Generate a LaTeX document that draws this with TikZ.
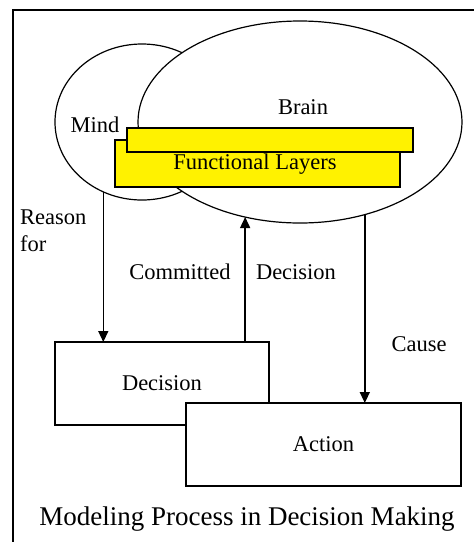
\documentclass[tikz,border=0pt]{standalone}
\usepackage{fontspec}
\setmainfont{Liberation Serif}
\usepackage{xcolor}
\usetikzlibrary{arrows.meta,shapes.geometric}

\begin{document}
\begin{tikzpicture}[x=1pt,y=-1pt,
		lbl/.style={font=\fontsize{22.5}{27}\selectfont,inner sep=0pt},
		oval/.style={draw,ellipse,line width=1.2pt,inner sep=0pt,outer sep=0pt},
		layer/.style={draw,fill=yellow,line width=1.5pt,inner sep=0pt,outer sep=0pt},
		box/.style={draw,fill=white,line width=1.5pt,inner sep=0pt,outer sep=0pt},
		arr/.style={line width=1.5pt,-{Triangle[width=10pt,length=11pt]}}]
	\clip (0,0) rectangle (474,542);
	\fill[white] (0,0) rectangle (474,542);
	\draw[line width=2.5pt] (13,10) rectangle (490,560);
	
	% mind and brain
	\node[oval,minimum width=174pt,minimum height=156pt] (mind) at (142,122) {};
	\node[oval,fill=white,minimum width=324pt,minimum height=202pt] (brain) at (300,122) {};
	\node[lbl] (mindtxt) at (95,125) {Mind};
	\node[lbl] (braintxt) at (303,107) {Brain};
	
	% functional layers
	\node[layer,minimum width=285pt,minimum height=47pt] (lowlayer) at (257.5,163.5) {};
	\node[lbl] (layertxt) at (255,164) {Functional Layers};
	\node[layer,minimum width=286pt,minimum height=24pt] (uplayer) at (270,140) {};
	
	% boxes
	\node[box,minimum width=214pt,minimum height=83pt] (decision) at (162,383.5) {};
	\node[lbl] at (decision) {Decision};
	\node[box,minimum width=275pt,minimum height=83pt] (action) at (323.5,444.5) {};
	\node[lbl] at (action) {Action};
	
	% arrows
	\draw[arr] (mind.241) -- (mind.241 |- decision.north);
	\draw[arr] (decision.north -| brain.240) -- (brain.240);
	\draw[arr] (brain.305) -- (brain.305 |- action.north);
	
	\node[lbl,align=left,anchor=north west] (reason) at (20,210) {Reason\\for};
	\node[lbl] (committed) at (180,272) {Committed};
	\node[lbl] (dectxt) at (296,272) {Decision};
	\node[lbl] (cause) at (419,344) {Cause};
	
	\node[font=\fontsize{27}{32}\selectfont,inner sep=0pt] (caption) at (247,519) {Modeling Process in Decision Making};
\end{tikzpicture}
\end{document}
